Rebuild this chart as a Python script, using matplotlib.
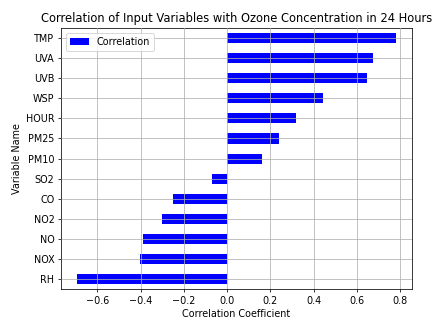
import matplotlib
matplotlib.use("Agg")
import matplotlib.pyplot as plt
import pandas as pd

# variables, bottom to top as drawn
variables = ['RH', 'NOX', 'NO', 'NO2', 'CO', 'SO2', 'PM10', 'PM25', 'HOUR', 'WSP', 'UVB', 'UVA', 'TMP']
correlation = [-0.695, -0.405, -0.391, -0.303, -0.252, -0.068, 0.162, 0.241, 0.320, 0.444, 0.647, 0.675, 0.781]

plt.rcParams['font.size'] = 10.2

df = pd.DataFrame({'Correlation': correlation}, index=variables)

fig = plt.figure(figsize=(435 / 68, 320 / 68), dpi=68)
ax = fig.add_axes([0.140, 0.097, 0.807, 0.815])

df.plot(kind='barh', ax=ax, color='blue')
ax.set_axisbelow(False)
ax.grid(True, color='#b0b0b0', linewidth=0.8)

ax.set_title('Correlation of Input Variables with Ozone Concentration in 24 Hours')
ax.set_xlabel('Correlation Coefficient')
ax.set_ylabel('Variable Name')
ax.legend(loc='upper left')

fig.savefig('out.png', dpi=68)
